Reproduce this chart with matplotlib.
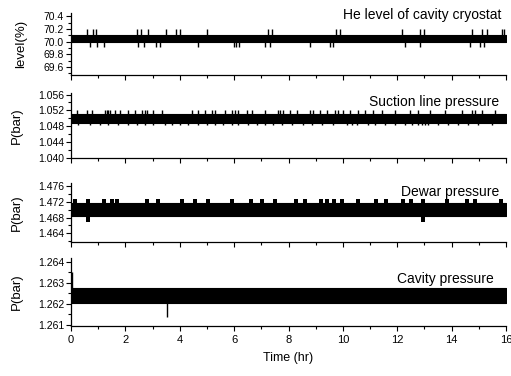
import matplotlib
matplotlib.use("Agg")
import matplotlib.pyplot as plt
from matplotlib.ticker import MultipleLocator, FormatStrFormatter

plt.rcParams['font.family'] = ['Liberation Sans', 'DejaVu Sans']

# ---------------- data ----------------
t_span = [0.0, 16.0]

# Panel 1: He level (%)
he_band_low = [70.0, 70.0]
he_band_high = [70.1, 70.1]
he_up_t = [0.59, 0.81, 0.92, 2.43, 2.57, 2.83, 3.49, 3.86, 4.01, 5.0, 7.24, 7.39,
           9.74, 9.89, 12.17, 12.83, 12.98, 14.75, 15.12, 15.3, 15.85, 15.93]
he_up_v = 70.2
he_dn_t = [0.70, 0.96, 1.21, 2.46, 2.69, 3.13, 3.27, 4.67, 5.99, 6.07, 6.18, 7.13,
           7.31, 8.79, 9.53, 9.64, 12.28, 12.83, 14.68, 15.04, 15.19]
he_dn_v = 69.91

# Panel 2: suction line pressure (bar)
su_band_low = [1.0487, 1.0487]
su_band_high = [1.0512, 1.0512]
su_up_t = [0.21, 0.58, 0.76, 1.25, 1.31, 1.37, 1.43, 1.62, 1.80, 2.11, 2.35, 2.60,
           2.72, 2.78, 3.03, 3.34, 4.44, 4.68, 4.93, 5.17, 5.30, 5.66, 5.91, 6.03,
           6.15, 6.46, 6.65, 7.14, 7.62, 7.69, 7.81, 8.05, 8.30, 8.79, 8.91, 9.16,
           9.40, 9.71, 9.83, 10.02, 10.26, 10.57, 10.81, 11.12, 11.43, 11.92, 12.47,
           12.77, 13.20, 13.76, 14.37, 14.74, 14.86, 15.11, 15.60]
su_up_v = 1.0521
su_dn_t = [0.26, 0.70, 1.07, 1.36, 1.73, 2.10, 2.43, 2.72, 3.02, 3.46, 3.71, 4.01,
           4.30, 4.67, 5.00, 5.30, 5.59, 5.92, 6.14, 6.51, 6.84, 7.14, 7.43, 7.76,
           8.12, 8.54, 8.85, 9.22, 9.65, 10.14, 10.32, 10.51, 10.94, 11.18, 11.55,
           11.92, 12.28, 12.53, 12.77, 12.90, 13.02, 13.14, 13.51, 13.88, 14.25,
           14.61, 14.98, 15.47]
su_dn_v = 1.0482

# Panel 3: dewar pressure (bar)
dw_band_low = [1.4683, 1.4683]
dw_band_high = [1.4717, 1.4717]
dw_up_t = [0.15, 0.63, 1.21, 1.51, 1.69, 2.80, 3.20, 4.08, 4.56, 5.04, 5.92, 6.62,
           7.02, 7.50, 8.28, 8.61, 9.20, 9.42, 9.67, 9.97, 10.56, 11.22, 11.59,
           12.21, 12.51, 12.95, 13.83, 14.57, 14.86, 15.82]
dw_up_v = 1.4728
dw_dn_t = [0.63, 12.95]
dw_dn_v = 1.4670

# Panel 4: cavity pressure (bar)
cv_band_low = [1.26203, 1.26203]
cv_band_high = [1.26276, 1.26276]
cv_up_t = [0.05]
cv_up_v = 1.2635
cv_dn_t = [3.54]
cv_dn_v = 1.26137

titles = ["He level of cavity cryostat", "Suction line pressure",
          "Dewar pressure", "Cavity pressure"]
ylabels = ["level(%)", "P(bar)", "P(bar)", "P(bar)"]
xticks = [0, 2, 4, 6, 8, 10, 12, 14, 16]

# ---------------- layout ----------------
W, H = 511, 376
fig = plt.figure(figsize=(W / 100, H / 100), dpi=100)

left = 71 / W
width = 435 / W
boxes = [(13, 75), (93, 158.3), (182.7, 241.7), (258, 326)]
ylims = [(69.475, 70.45), (1.0399, 1.0564), (1.4619, 1.4768), (1.26095, 1.26418)]
ymajor = [0.2, 0.004, 0.004, 0.001]
yminor = [0.1, 0.002, 0.002, 0.0005]
yfmt = ['%.1f', '%.3f', '%.3f', '%.3f']
title_pos = [(0.99, 0.903), (0.984, 0.80), (0.984, 0.775), (0.972, 0.632)]
label_x = [-0.102, -0.111, -0.111, -0.111]

axes = []
for i, (top, bot) in enumerate(boxes):
    ax = fig.add_axes([left, 1 - bot / H, width, (bot - top) / H])
    axes.append(ax)

data = [
    (he_band_low, he_band_high, he_up_t, he_up_v, he_dn_t, he_dn_v, 'line'),
    (su_band_low, su_band_high, su_up_t, su_up_v, su_dn_t, su_dn_v, 'line'),
    (dw_band_low, dw_band_high, dw_up_t, dw_up_v, dw_dn_t, dw_dn_v, 'block'),
    (cv_band_low, cv_band_high, cv_up_t, cv_up_v, cv_dn_t, cv_dn_v, 'line'),
]

for i, ax in enumerate(axes):
    lo, hi, ut, uv, dt, dv, kind = data[i]
    ax.fill_between(t_span, lo, hi, color='black', lw=0.8, edgecolor='black')
    if kind == 'line':
        ax.vlines(ut, hi[0], uv, color='black', lw=1.0)
        ax.vlines(dt, dv, lo[0], color='black', lw=1.0)
    else:
        ax.bar(ut, uv - hi[0], bottom=hi[0], width=0.13, color='black', lw=0)
        ax.bar(dt, lo[0] - dv, bottom=dv, width=0.13, color='black', lw=0)

    ax.set_xlim(0, 16)
    ax.set_ylim(*ylims[i])
    ax.spines['top'].set_visible(False)
    ax.spines['right'].set_visible(False)
    for s in ['left', 'bottom']:
        ax.spines[s].set_linewidth(0.9)
    ax.xaxis.set_major_locator(MultipleLocator(2))
    ax.xaxis.set_minor_locator(MultipleLocator(1))
    ax.yaxis.set_major_locator(MultipleLocator(ymajor[i]))
    ax.yaxis.set_minor_locator(MultipleLocator(yminor[i]))
    ax.yaxis.set_major_formatter(FormatStrFormatter(yfmt[i]))
    ax.tick_params(which='major', direction='out', length=3.5, width=0.8,
                   labelsize=7.5, pad=1.5)
    ax.tick_params(axis='x', which='major', labelsize=8, pad=3)
    ax.tick_params(which='minor', direction='out', length=2, width=0.8)
    ax.set_xticks(xticks)
    if i < 3:
        ax.tick_params(axis='x', labelbottom=False)
    ax.set_ylabel(ylabels[i], fontsize=9.5)
    ax.yaxis.set_label_coords(label_x[i], 0.5)
    tx, ty = title_pos[i]
    ax.text(tx, ty, titles[i], transform=ax.transAxes, ha='right',
            va='baseline', fontsize=10, clip_on=False)

axes[-1].set_xlabel("Time (hr)", fontsize=9, labelpad=5)

fig.savefig("out.png", dpi=100)
